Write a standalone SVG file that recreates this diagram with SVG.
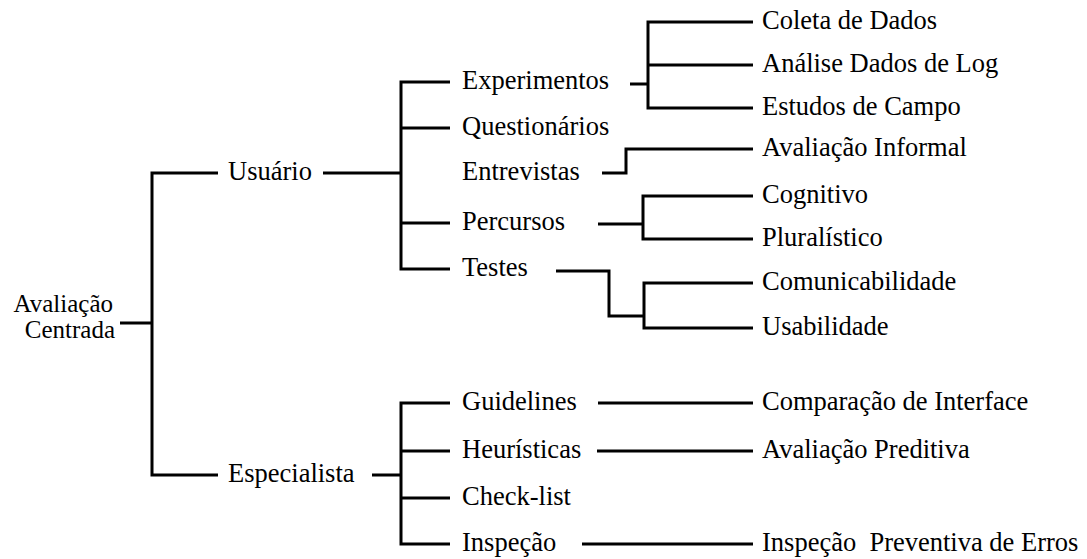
<svg xmlns="http://www.w3.org/2000/svg" width="1087" height="559" viewBox="0 0 1087 559">
<style>
text{font-family:'Liberation Serif','Times New Roman',serif;font-size:26.5px;fill:#000}
.root{font-size:25px}
.c path{stroke:#000;stroke-width:3;fill:none}
</style>
<rect width="1087" height="559" fill="#fff"/>
<g class="c" id="connectors">
<path d="M120,323 H152 M218,173 H152 V475 H218"/>
<path d="M323,173 H401 M372,475 H401"/>
<path d="M450,82 H401 V269 H450 M401,128 H450 M401,223 H450"/>
<path d="M450,403 H401 V544 H450 M401,451 H450 M401,498 H450"/>
<path d="M630,84 H648 M753,22 H648 V108 H753 M648,65 H753"/>
<path d="M602,173 H626 V149 H753"/>
<path d="M598,224 H643 M753,196 H643 V239 H753"/>
<path d="M556,271 H609 V316 H644 M753,283 H644 V328 H753"/>
<path d="M598,403 H753 M597,451 H753 M582,544 H753"/>
</g>
<g id="root"><text class="root" x="113" y="312" text-anchor="end">Avaliação</text><text class="root" x="115" y="338" text-anchor="end">Centrada</text></g>
<g id="usuario"><text x="228" y="180">Usuário</text></g>
<g id="especialista"><text x="228" y="482">Especialista</text></g>
<g id="experimentos"><text x="462" y="89">Experimentos</text></g>
<g id="questionarios"><text x="462" y="135">Questionários</text></g>
<g id="entrevistas"><text x="462" y="180">Entrevistas</text></g>
<g id="percursos"><text x="462" y="230">Percursos</text></g>
<g id="testes"><text x="462" y="276">Testes</text></g>
<g id="guidelines"><text x="462" y="410">Guidelines</text></g>
<g id="heuristicas"><text x="462" y="458">Heurísticas</text></g>
<g id="checklist"><text x="462" y="505">Check-list</text></g>
<g id="inspecao"><text x="462" y="551">Inspeção</text></g>
<g id="coleta"><text x="762" y="29">Coleta de Dados</text></g>
<g id="analise"><text x="762" y="72">Análise Dados de Log</text></g>
<g id="estudos"><text x="762" y="115">Estudos de Campo</text></g>
<g id="informal"><text x="762" y="156">Avaliação Informal</text></g>
<g id="cognitivo"><text x="762" y="203">Cognitivo</text></g>
<g id="pluralistico"><text x="762" y="246">Pluralístico</text></g>
<g id="comunicabilidade"><text x="762" y="290">Comunicabilidade</text></g>
<g id="usabilidade"><text x="762" y="335">Usabilidade</text></g>
<g id="comparacao"><text x="762" y="410">Comparação de Interface</text></g>
<g id="preditiva"><text x="762" y="458">Avaliação Preditiva</text></g>
<g id="preventiva"><text x="762" y="551" xml:space="preserve">Inspeção  Preventiva de Erros</text></g>
</svg>
